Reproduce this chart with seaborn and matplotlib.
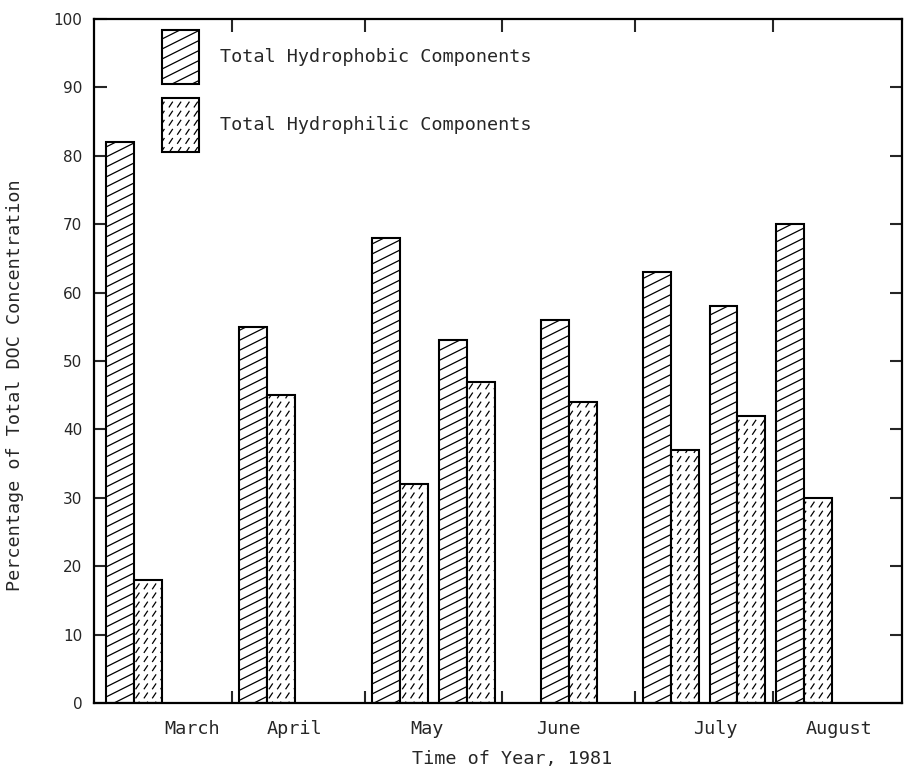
import numpy as np
import pandas as pd
import matplotlib
matplotlib.use("Agg")
import matplotlib.pyplot as plt
import matplotlib.hatch as mhatch
from matplotlib.path import Path
from matplotlib.patches import Patch
import seaborn as sns

# ---- data -------------------------------------------------------------
sample_dates = ["1981-03-10", "1981-04-09", "1981-05-09", "1981-05-24",
                "1981-06-16", "1981-07-09", "1981-07-24", "1981-08-08"]
hydrophobic = [82, 55, 68, 53, 56, 63, 58, 70]
hydrophilic = [18, 45, 32, 47, 44, 37, 42, 30]
series_names = ["Total Hydrophobic Components", "Total Hydrophilic Components"]
month_names = ["March", "April", "May", "June", "July", "August"]
y_ticks = list(range(0, 101, 10))

# days after 1 March where each month name is printed
month_label_days = [22, 45, 75, 104.5, 140, 168]
season_start = pd.Timestamp("1981-03-01")


# ---- typewriter-style fill patterns -------------------------------------
class ShallowDiagonal:
    """Parallel lines rising at a shallow angle ('/')."""
    slope = 0.5
    rows = 10

    def __init__(self, hatch, density):
        if "/" in hatch:
            k = np.arange(-int(np.ceil(self.slope * self.rows)), self.rows + 1)
            self.offsets = k / self.rows
        else:
            self.offsets = np.array([])
        self.num_lines = len(self.offsets)
        self.num_vertices = 2 * self.num_lines

    def set_vertices_and_codes(self, vertices, codes):
        vertices[0::2, 0] = 0.0
        vertices[0::2, 1] = self.offsets
        vertices[1::2, 0] = 1.0
        vertices[1::2, 1] = self.offsets + self.slope
        codes[0::2] = Path.MOVETO
        codes[1::2] = Path.LINETO


class SlantDashes:
    """Grid of short slanted dashes ('.')."""
    cols, rows = 12, 11
    dx, dy = 0.032, 0.048

    def __init__(self, hatch, density):
        n = self.cols * self.rows if "." in hatch else 0
        self.num_vertices = 2 * n

    def set_vertices_and_codes(self, vertices, codes):
        gx, gy = np.meshgrid((np.arange(self.cols) + 0.5) / self.cols,
                             (np.arange(self.rows) + 0.5) / self.rows)
        cx, cy = gx.ravel(), gy.ravel()
        vertices[0::2, 0] = cx - self.dx / 2
        vertices[0::2, 1] = cy - self.dy / 2
        vertices[1::2, 0] = cx + self.dx / 2
        vertices[1::2, 1] = cy + self.dy / 2
        codes[0::2] = Path.MOVETO
        codes[1::2] = Path.LINETO


mhatch._hatch_types[:] = [ShallowDiagonal, SlantDashes]
series_hatches = ["/", "."]

# ---- figure -------------------------------------------------------------
sns.set_style("ticks")
mono = "DejaVu Sans Mono"
plt.rcParams["hatch.linewidth"] = 0.9
plt.rcParams["hatch.color"] = "black"

days = (pd.to_datetime(sample_dates) - season_start).days
df = pd.DataFrame({
    "day": np.tile(days, 2),
    "pct": hydrophobic + hydrophilic,
    "component": np.repeat(series_names, len(days)),
})

fig = plt.figure(figsize=(9.06, 7.77), dpi=100)
ax = fig.add_axes([94 / 906, 74 / 777, 808 / 906, 684 / 777])

sns.barplot(data=df, x="day", y="pct", hue="component", hue_order=series_names,
            native_scale=True, dodge=True, width=0.84, errorbar=None,
            palette=["white", "white"], saturation=1, edgecolor="black",
            linewidth=1.5, legend=False, ax=ax)

for container, hatch in zip(ax.containers, series_hatches):
    for bar in container:
        bar.set_hatch(hatch)
        bar.set_facecolor("white")
        bar.set_edgecolor("black")

# axes ranges and ticks
ax.set_xlim(-0.1, 182.1)
ax.set_ylim(0, 100)
month_starts = (pd.date_range("1981-04-01", "1981-08-01", freq="MS") - season_start).days
ax.set_xticks(month_starts)
ax.set_xticklabels([])
ax.set_xticks(month_label_days, labels=month_names, minor=True)
ax.tick_params(axis="x", which="major", direction="in", length=9, width=1.5,
               top=True, bottom=True)
ax.tick_params(axis="x", which="minor", length=0, pad=12.5)
for lab in ax.get_xticklabels(minor=True):
    lab.set_fontfamily(mono)
    lab.set_fontsize(13.3)

ax.set_yticks(y_ticks)
ax.set_yticklabels([str(v) for v in y_ticks], fontfamily="DejaVu Sans", fontsize=11)
ax.tick_params(axis="y", direction="in", length=9, width=1.5,
               left=True, right=True, pad=8.5)

for side in ["left", "right", "top", "bottom"]:
    ax.spines[side].set_visible(True)
    ax.spines[side].set_linewidth(1.6)
    ax.spines[side].set_color("black")

ax.set_xlabel("Time of Year, 1981", fontfamily=mono, fontsize=13.3)
ax.xaxis.set_label_coords(0.517, -0.068)
ax.set_ylabel("")
fig.text(15 / 906, 1 - 385 / 777, "Percentage of Total DOC Concentration",
         rotation=90, ha="center", va="center", fontfamily=mono, fontsize=13.3)

# legend with tall hatched swatches
handles = [Patch(facecolor="white", edgecolor="black", linewidth=1.5, hatch=h)
           for h in series_hatches]
ax.legend(handles, series_names, loc="upper left",
          bbox_to_anchor=((162 - 94) / 808, (703 - 30) / 684),
          frameon=False, borderpad=0, borderaxespad=0,
          handlelength=2.0, handleheight=4.12, labelspacing=0.76,
          handletextpad=1.12, prop={"family": mono, "size": 13.3})

fig.savefig("out.png", dpi=100, facecolor="white")
